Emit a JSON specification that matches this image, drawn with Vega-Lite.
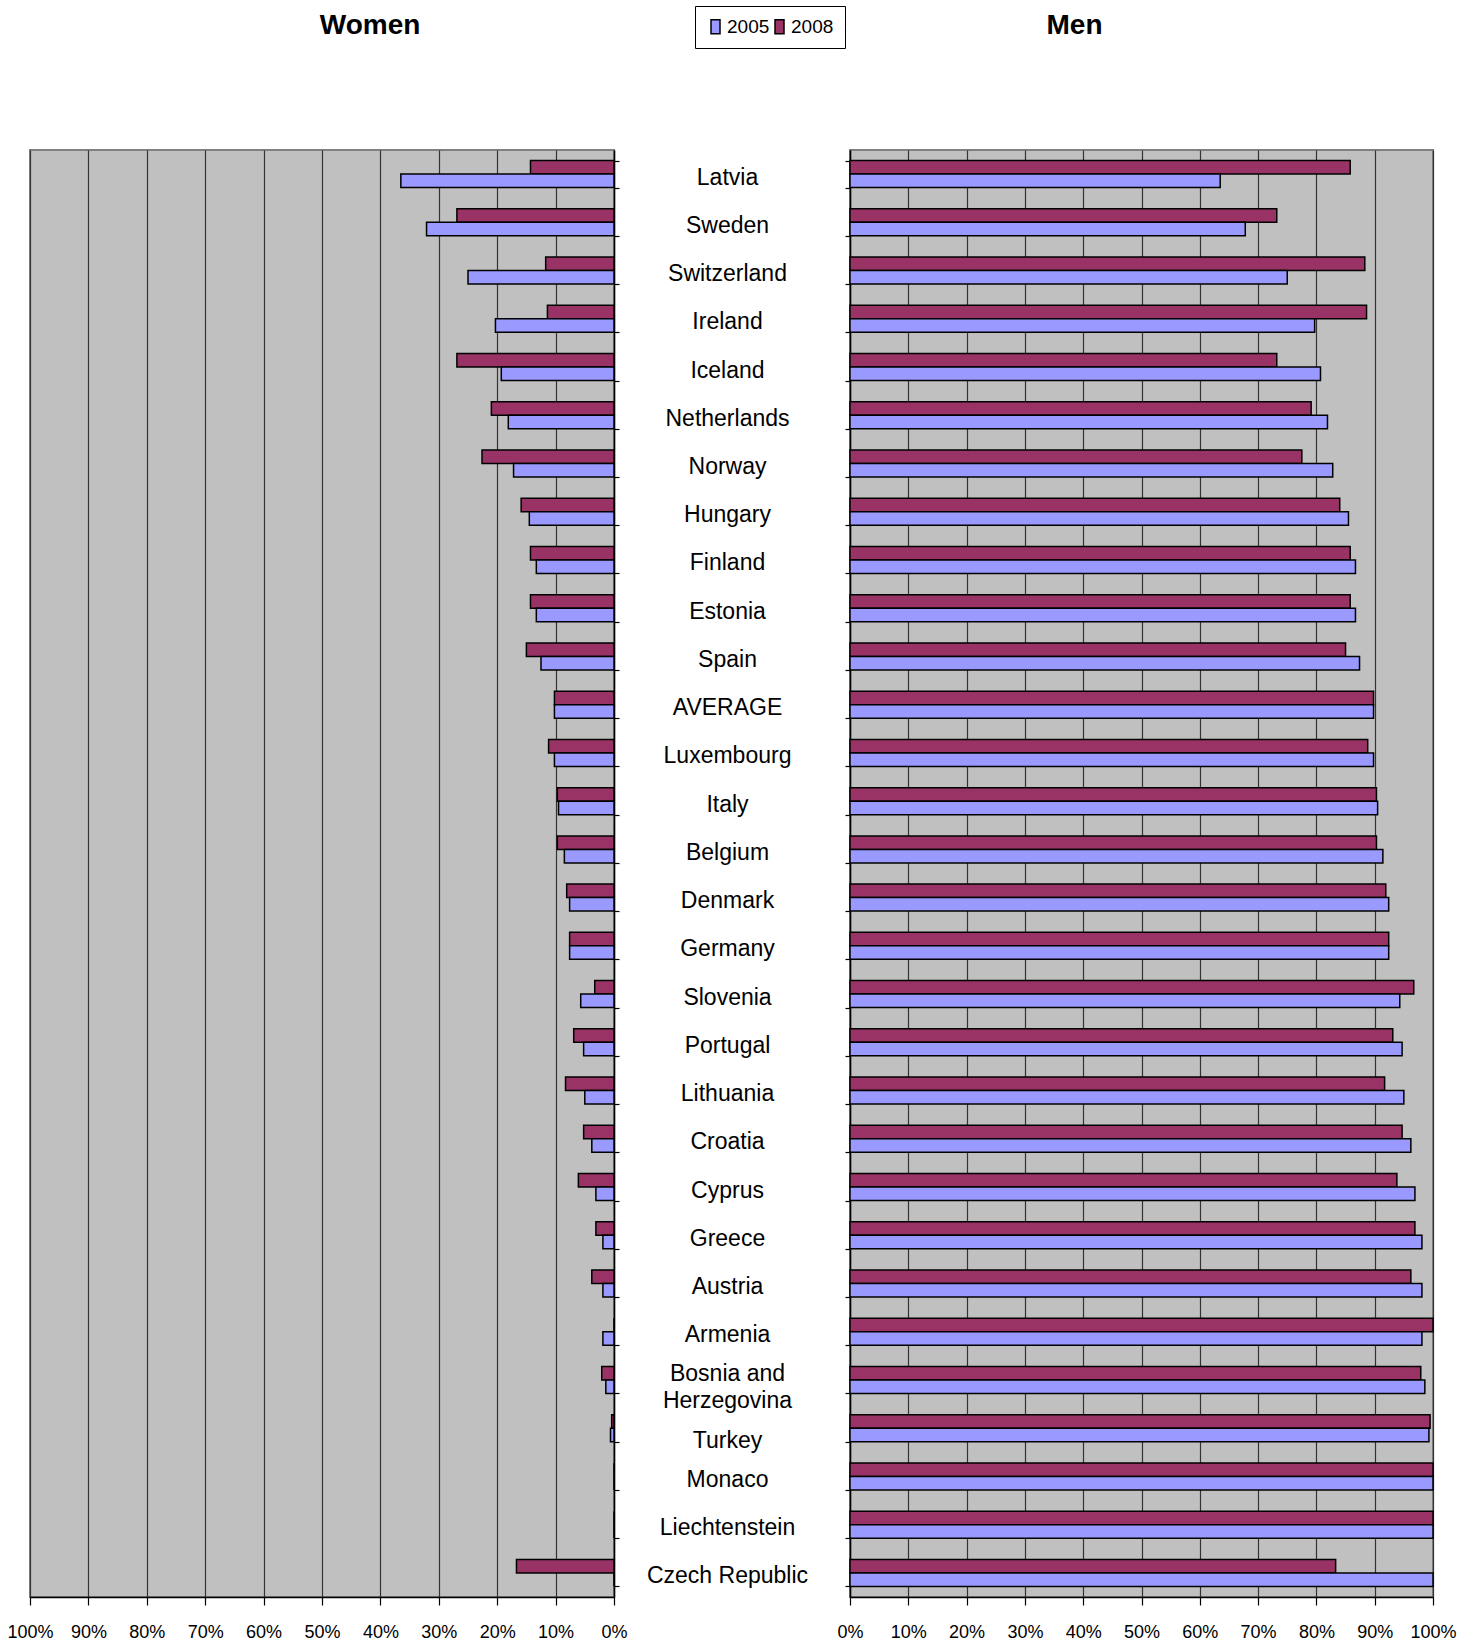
{
  "$schema": "https://vega.github.io/schema/vega-lite/v6.json",
  "background": "white",
  "padding": {"left": 5, "top": 5, "right": 5, "bottom": 5},
  "spacing": 236,
  "bounds": "flush",
  "data": {
    "values": [
      {"country": "Latvia", "year": "2008", "women": 14.3, "men": 85.8},
      {"country": "Latvia", "year": "2005", "women": 36.5, "men": 63.5},
      {"country": "Sweden", "year": "2008", "women": 26.9, "men": 73.2},
      {"country": "Sweden", "year": "2005", "women": 32.1, "men": 67.8},
      {"country": "Switzerland", "year": "2008", "women": 11.7, "men": 88.3},
      {"country": "Switzerland", "year": "2005", "women": 25.0, "men": 75.0},
      {"country": "Ireland", "year": "2008", "women": 11.4, "men": 88.6},
      {"country": "Ireland", "year": "2005", "women": 20.3, "men": 79.7},
      {"country": "Iceland", "year": "2008", "women": 26.9, "men": 73.2},
      {"country": "Iceland", "year": "2005", "women": 19.3, "men": 80.7},
      {"country": "Netherlands", "year": "2008", "women": 21.0, "men": 79.1},
      {"country": "Netherlands", "year": "2005", "women": 18.1, "men": 81.9},
      {"country": "Norway", "year": "2008", "women": 22.6, "men": 77.5},
      {"country": "Norway", "year": "2005", "women": 17.2, "men": 82.8},
      {"country": "Hungary", "year": "2008", "women": 15.9, "men": 84.0},
      {"country": "Hungary", "year": "2005", "women": 14.5, "men": 85.5},
      {"country": "Finland", "year": "2008", "women": 14.3, "men": 85.8},
      {"country": "Finland", "year": "2005", "women": 13.3, "men": 86.7},
      {"country": "Estonia", "year": "2008", "women": 14.3, "men": 85.8},
      {"country": "Estonia", "year": "2005", "women": 13.3, "men": 86.7},
      {"country": "Spain", "year": "2008", "women": 15.0, "men": 85.0},
      {"country": "Spain", "year": "2005", "women": 12.5, "men": 87.4},
      {"country": "AVERAGE", "year": "2008", "women": 10.2, "men": 89.8},
      {"country": "AVERAGE", "year": "2005", "women": 10.2, "men": 89.8},
      {"country": "Luxembourg", "year": "2008", "women": 11.2, "men": 88.8},
      {"country": "Luxembourg", "year": "2005", "women": 10.2, "men": 89.8},
      {"country": "Italy", "year": "2008", "women": 9.7, "men": 90.3},
      {"country": "Italy", "year": "2005", "women": 9.5, "men": 90.5},
      {"country": "Belgium", "year": "2008", "women": 9.7, "men": 90.3},
      {"country": "Belgium", "year": "2005", "women": 8.5, "men": 91.4},
      {"country": "Denmark", "year": "2008", "women": 8.1, "men": 91.9},
      {"country": "Denmark", "year": "2005", "women": 7.6, "men": 92.4},
      {"country": "Germany", "year": "2008", "women": 7.6, "men": 92.4},
      {"country": "Germany", "year": "2005", "women": 7.6, "men": 92.4},
      {"country": "Slovenia", "year": "2008", "women": 3.3, "men": 96.7},
      {"country": "Slovenia", "year": "2005", "women": 5.7, "men": 94.3},
      {"country": "Portugal", "year": "2008", "women": 6.9, "men": 93.1},
      {"country": "Portugal", "year": "2005", "women": 5.2, "men": 94.7},
      {"country": "Lithuania", "year": "2008", "women": 8.3, "men": 91.7},
      {"country": "Lithuania", "year": "2005", "women": 5.0, "men": 95.0},
      {"country": "Croatia", "year": "2008", "women": 5.2, "men": 94.7},
      {"country": "Croatia", "year": "2005", "women": 3.8, "men": 96.2},
      {"country": "Cyprus", "year": "2008", "women": 6.1, "men": 93.8},
      {"country": "Cyprus", "year": "2005", "women": 3.1, "men": 96.9},
      {"country": "Greece", "year": "2008", "women": 3.1, "men": 96.9},
      {"country": "Greece", "year": "2005", "women": 1.9, "men": 98.1},
      {"country": "Austria", "year": "2008", "women": 3.8, "men": 96.2},
      {"country": "Austria", "year": "2005", "women": 1.9, "men": 98.1},
      {"country": "Armenia", "year": "2008", "women": 0, "men": 100},
      {"country": "Armenia", "year": "2005", "women": 1.9, "men": 98.1},
      {"country": "Bosnia and Herzegovina", "year": "2008", "women": 2.1, "men": 97.9},
      {"country": "Bosnia and Herzegovina", "year": "2005", "women": 1.4, "men": 98.6},
      {"country": "Turkey", "year": "2008", "women": 0.4, "men": 99.5},
      {"country": "Turkey", "year": "2005", "women": 0.6, "men": 99.3},
      {"country": "Monaco", "year": "2008", "women": 0, "men": 100},
      {"country": "Monaco", "year": "2005", "women": 0, "men": 100},
      {"country": "Liechtenstein", "year": "2008", "women": 0, "men": 100},
      {"country": "Liechtenstein", "year": "2005", "women": 0, "men": 100},
      {"country": "Czech Republic", "year": "2008", "women": 16.7, "men": 83.3},
      {"country": "Czech Republic", "year": "2005", "women": 0, "men": 100}
    ]
  },
  "config": {
    "view": {"fill": "#C0C0C0", "stroke": "#808080", "strokeWidth": 2},
    "axis": {
      "domainColor": "black",
      "domainWidth": 1.5,
      "tickColor": "black",
      "tickWidth": 1.2,
      "gridColor": "#333333",
      "gridWidth": 1.2,
      "labelColor": "black"
    }
  },
  "resolve": {"scale": {"color": "shared"}},
  "hconcat": [
    {
      "width": 584,
      "height": 1447,
      "title": {
        "text": "Women",
        "frame": "group",
        "anchor": "middle",
        "dx": 48,
        "offset": 88,
        "baseline": "alphabetic",
        "font": "Liberation Sans",
        "fontSize": 28,
        "fontWeight": "bold",
        "color": "black"
      },
      "mark": {"type": "bar", "stroke": "black", "strokeWidth": 1.5},
      "encoding": {
        "y": {
          "field": "country",
          "type": "nominal",
          "sort": null,
          "scale": {"paddingInner": 0.44, "paddingOuter": 0.22},
          "axis": {
            "orient": "right",
            "title": null,
            "labels": false,
            "tickBand": "extent",
            "tickSize": 5
          }
        },
        "yOffset": {"field": "year", "type": "nominal", "sort": ["2008", "2005"]},
        "x": {
          "field": "women",
          "type": "quantitative",
          "scale": {"domain": [0, 100], "reverse": true, "nice": false},
          "axis": {
            "title": null,
            "values": [0, 10, 20, 30, 40, 50, 60, 70, 80, 90, 100],
            "labelExpr": "datum.value + '%'",
            "grid": true,
            "tickSize": 8,
            "labelPadding": 18,
            "labelFlush": false,
            "labelOverlap": false,
            "labelFont": "Liberation Sans, Arial, sans-serif",
            "labelFontSize": 18
          }
        },
        "color": {
          "field": "year",
          "type": "nominal",
          "scale": {"domain": ["2005", "2008"], "range": ["#9999FF", "#993366"]},
          "legend": {
            "orient": "none",
            "legendX": 665,
            "legendY": -144,
            "direction": "horizontal",
            "title": null,
            "strokeColor": "black",
            "fillColor": "white",
            "padding": 11,
            "labelFont": "Liberation Sans, Arial, sans-serif",
            "labelFontSize": 19,
            "labelColor": "black",
            "labelOffset": 2,
            "columnPadding": 0,
            "symbolType": "M-0.9,-1.4H0.9V1.4H-0.9Z",
            "symbolSize": 100,
            "symbolStrokeColor": "black",
            "symbolStrokeWidth": 1.5,
            "symbolOpacity": 1
          }
        }
      }
    },
    {
      "width": 583,
      "height": 1447,
      "title": {
        "text": "Men",
        "frame": "group",
        "anchor": "middle",
        "dx": -67,
        "offset": 77,
        "baseline": "alphabetic",
        "font": "Liberation Sans",
        "fontSize": 28,
        "fontWeight": "bold",
        "color": "black"
      },
      "mark": {"type": "bar", "stroke": "black", "strokeWidth": 1.5},
      "encoding": {
        "y": {
          "field": "country",
          "type": "nominal",
          "sort": null,
          "scale": {"paddingInner": 0.44, "paddingOuter": 0.22},
          "axis": {
            "orient": "left",
            "title": null,
            "tickBand": "extent",
            "tickSize": 5,
            "labelPadding": 118,
            "labelAlign": "center",
            "labelBaseline": "middle",
            "labelLimit": 0,
            "labelFont": "Liberation Sans, Arial, sans-serif",
            "labelFontSize": 23,
            "labelLineHeight": 27,
            "labelOffset": {
              "condition": [
                {"test": "datum.label == 'Bosnia and Herzegovina'", "value": -6},
                {"test": "datum.label == 'Turkey'", "value": 12}
              ],
              "value": 3
            },
            "labelExpr": "datum.label == 'Bosnia and Herzegovina' ? ['Bosnia and', 'Herzegovina'] : datum.label"
          }
        },
        "yOffset": {"field": "year", "type": "nominal", "sort": ["2008", "2005"]},
        "x": {
          "field": "men",
          "type": "quantitative",
          "scale": {"domain": [0, 100], "nice": false},
          "axis": {
            "title": null,
            "values": [0, 10, 20, 30, 40, 50, 60, 70, 80, 90, 100],
            "labelExpr": "datum.value + '%'",
            "grid": true,
            "tickSize": 8,
            "labelPadding": 18,
            "labelFlush": false,
            "labelOverlap": false,
            "labelFont": "Liberation Sans, Arial, sans-serif",
            "labelFontSize": 18
          }
        },
        "color": {
          "field": "year",
          "type": "nominal",
          "scale": {"domain": ["2005", "2008"], "range": ["#9999FF", "#993366"]},
          "legend": {
            "orient": "none",
            "legendX": 665,
            "legendY": -144,
            "direction": "horizontal",
            "title": null,
            "strokeColor": "black",
            "fillColor": "white",
            "padding": 11,
            "labelFont": "Liberation Sans, Arial, sans-serif",
            "labelFontSize": 19,
            "labelColor": "black",
            "labelOffset": 2,
            "columnPadding": 0,
            "symbolType": "M-0.9,-1.4H0.9V1.4H-0.9Z",
            "symbolSize": 100,
            "symbolStrokeColor": "black",
            "symbolStrokeWidth": 1.5,
            "symbolOpacity": 1
          }
        }
      }
    }
  ]
}
